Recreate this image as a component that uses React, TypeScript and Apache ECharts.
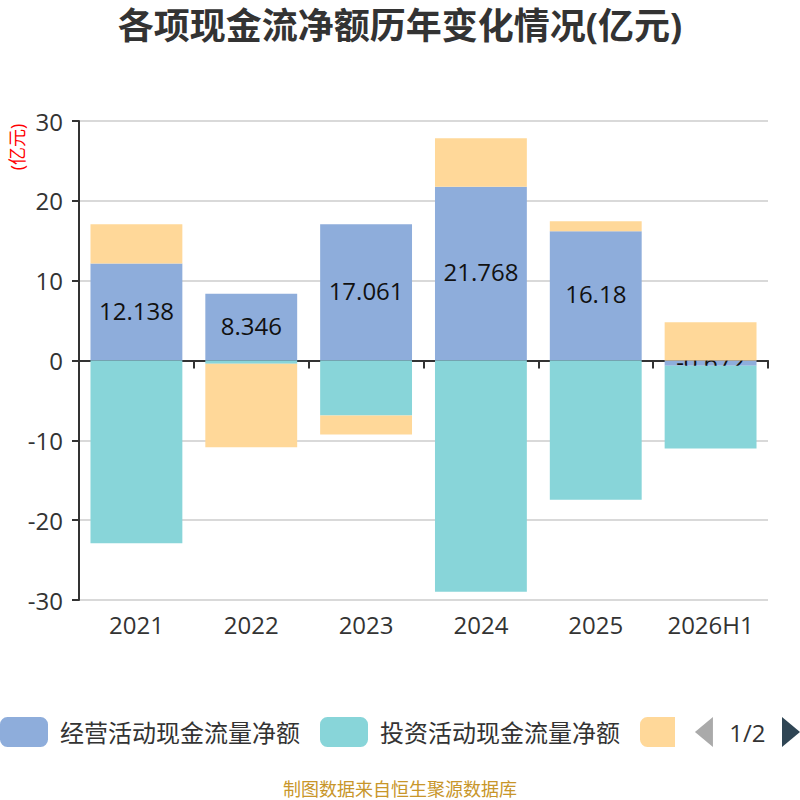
import React, { useEffect, useRef } from "react";
import * as echarts from "echarts";

const categories = ["2021", "2022", "2023", "2024", "2025", "2026H1"];
const seriesNames = ["经营活动现金流量净额", "投资活动现金流量净额", "筹资活动现金流量净额"];
const operating = [12.138, 8.346, 17.061, 21.768, 16.18, -0.672];
const investing = [-22.9, -0.4, -6.9, -28.98, -17.44, -10.35];
const financing = [4.93, -10.47, -2.38, 6.08, 1.26, 4.78];
const colors = ["#8eaddb", "#88d5d9", "#ffd899"];
const titleText = "各项现金流净额历年变化情况(亿元)";
const sourceText = "制图数据来自恒生聚源数据库";
const unitText = "(亿元)";

const FONT = "'Open Sans', 'Noto Sans CJK SC', sans-serif";

export default function App() {
  const ref = useRef<HTMLDivElement>(null);
  useEffect(() => {
    document.body.style.margin = "0";
    if (!ref.current) return;
    const chart = echarts.init(ref.current, undefined, { renderer: "svg" });
    const seriesData = [operating, investing, financing];
    chart.setOption({
      animation: false,
      color: colors,
      textStyle: { fontFamily: FONT },
      title: [
        {
          text: titleText,
          left: "center",
          top: 2,
          textStyle: { fontSize: 36, fontWeight: "bold", color: "#333", fontFamily: FONT },
        },
        {
          text: sourceText,
          left: "center",
          bottom: -3,
          textStyle: { fontSize: 18, fontWeight: "normal", color: "#c8962a", fontFamily: FONT },
        },
      ],
      graphic: [
        {
          type: "text",
          x: 17,
          y: 147,
          rotation: Math.PI / 2,
          style: {
            text: unitText,
            fill: "#ff0000",
            fontSize: 18,
            fontFamily: FONT,
            align: "center",
            verticalAlign: "middle",
          },
        },
      ],
      legend: {
        type: "scroll",
        left: 0,
        right: 0,
        top: 717,
        padding: [0, 0, 0, 0],
        itemWidth: 48,
        itemHeight: 30,
        itemGap: 20,
        icon: "roundRect",
        textStyle: { fontSize: 24, color: "#333", fontFamily: FONT, padding: [0, 0, 0, 7] },
        pageIconSize: [18, 30],
        pageIconColor: "#2f4554",
        pageIconInactiveColor: "#aaa",
        pageTextStyle: { fontSize: 24, color: "#333", fontFamily: FONT },
        data: seriesNames,
      },
      grid: { left: 79, right: 32, top: 121, bottom: 200, containLabel: false },
      xAxis: [
        {
          type: "category",
          data: categories,
          position: "bottom",
          axisLine: { show: false, onZero: false },
          axisTick: { show: false },
          axisLabel: { fontSize: 24, color: "#333", margin: 12 },
        },
        {
          type: "category",
          data: categories,
          position: "bottom",
          axisLine: { show: true, onZero: true, lineStyle: { color: "#333", width: 2 } },
          axisTick: { show: true, length: 8, lineStyle: { color: "#333", width: 2 } },
          axisLabel: { show: false },
        },
      ],
      yAxis: {
        type: "value",
        min: -30,
        max: 30,
        interval: 10,
        axisLine: { show: true, lineStyle: { color: "#333", width: 2 } },
        axisTick: { show: true, length: 7, lineStyle: { color: "#333", width: 2 } },
        axisLabel: { fontSize: 24, color: "#333", margin: 16 },
        splitLine: { lineStyle: { color: "#ccc", width: 1.5 } },
      },
      series: seriesNames.map((name, i) => ({
        name,
        type: "bar",
        stack: "total",
        xAxisIndex: 0,
        barWidth: "80%",
        z: i === 0 ? 2 : 3,
        data: seriesData[i],
        label:
          i === 0
            ? { show: true, position: "inside", fontSize: 24, color: "#111", fontFamily: FONT, offset: [0, -2] }
            : { show: false },
      })),
    });
    return () => chart.dispose();
  }, []);
  return <div ref={ref} style={{ width: 800, height: 800 }} />;
}
